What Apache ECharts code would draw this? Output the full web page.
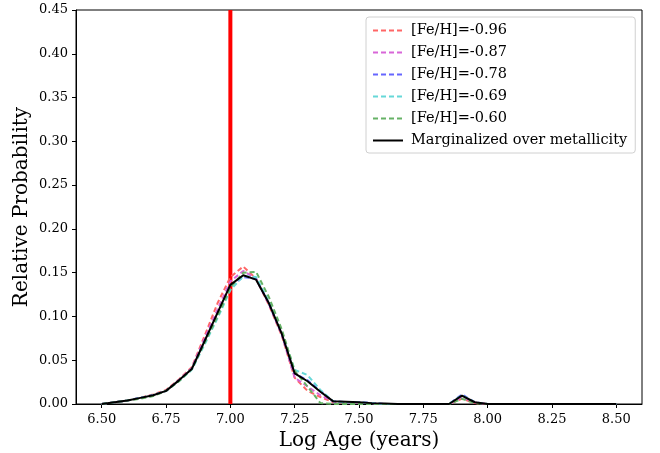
<!DOCTYPE html>
<html>
<head>
<meta charset="utf-8">
<script src="https://cdn.jsdelivr.net/npm/echarts@6/dist/echarts.min.js"></script>
<style>html,body{margin:0;padding:0;background:#fff}#c{width:660px;height:453px}</style>
</head>
<body>
<div id="c"></div>
<script>
// Log age grid
const logAge = [6.50,6.55,6.60,6.65,6.70,6.75,6.80,6.85,6.90,6.95,7.00,7.05,7.10,7.15,7.20,7.25,7.30,7.35,7.40,7.45,7.50,7.55,7.60,7.65,7.70,7.75,7.80,7.85,7.90,7.95,8.00,8.10,8.20,8.30,8.40,8.50];
const feh096 = [0.000,0.002,0.004,0.007,0.011,0.016,0.028,0.042,0.078,0.115,0.145,0.157,0.143,0.113,0.078,0.030,0.015,0.008,0.002,0.002,0.001,0.001,0.000,0.000,0.000,0.000,0.000,0.000,0.006,0.001,0.000,0.000,0.000,0.000,0.000,0.000];
const feh087 = [0.000,0.002,0.004,0.007,0.010,0.015,0.027,0.041,0.075,0.108,0.140,0.152,0.143,0.114,0.079,0.030,0.020,0.010,0.003,0.002,0.002,0.001,0.000,0.000,0.000,0.000,0.000,0.000,0.008,0.002,0.000,0.000,0.000,0.000,0.000,0.000];
const feh078 = [0.000,0.002,0.004,0.007,0.010,0.015,0.027,0.040,0.072,0.103,0.135,0.145,0.143,0.115,0.080,0.035,0.027,0.015,0.003,0.002,0.002,0.001,0.000,0.000,0.000,0.000,0.000,0.000,0.011,0.002,0.000,0.000,0.000,0.000,0.000,0.000];
const feh069 = [0.000,0.002,0.004,0.007,0.010,0.015,0.026,0.039,0.068,0.098,0.130,0.146,0.145,0.117,0.082,0.039,0.033,0.016,0.003,0.002,0.002,0.001,0.000,0.000,0.000,0.000,0.000,0.000,0.010,0.002,0.000,0.000,0.000,0.000,0.000,0.000];
const feh060 = [0.000,0.002,0.004,0.006,0.009,0.015,0.026,0.040,0.070,0.100,0.133,0.150,0.151,0.122,0.085,0.038,0.020,0.001,0.000,0.000,0.000,0.000,0.000,0.000,0.000,0.000,0.000,0.000,0.006,0.001,0.000,0.000,0.000,0.000,0.000,0.000];
const marginal = [0.000,0.002,0.004,0.007,0.010,0.015,0.027,0.040,0.072,0.104,0.136,0.147,0.142,0.115,0.080,0.035,0.026,0.014,0.003,0.0025,0.002,0.001,0.0005,0.000,0.000,0.000,0.000,0.000,0.0095,0.002,0.000,0.000,0.000,0.000,0.000,0.000];
const vlineX = [7.0, 7.0];
const vlineY = [0.0, 0.45];
const xTicks = [6.50,6.75,7.00,7.25,7.50,7.75,8.00,8.25,8.50];
const seriesNames = ['[Fe/H]=-0.96','[Fe/H]=-0.87','[Fe/H]=-0.78','[Fe/H]=-0.69','[Fe/H]=-0.60'];
const seriesColors = ['#ff6666','#d866d8','#6666ff','#66d8d8','#66b266'];
const seriesData = [feh096, feh087, feh078, feh069, feh060];

const font = 'DejaVu Serif';
const pairs = (xs, ys) => xs.map((x, i) => [x, ys[i]]);

const series = [];
series.push({
  name: 'vline', type: 'line', data: pairs(vlineX, vlineY), symbol: 'none',
  lineStyle: { color: '#ff0000', width: 4 }, silent: true, z: 1
});
seriesData.forEach((d, i) => {
  series.push({
    name: seriesNames[i], type: 'line', data: pairs(logAge, d), symbol: 'none',
    lineStyle: { color: seriesColors[i], width: 2, type: [5, 3] },
    itemStyle: { color: seriesColors[i] }, z: 2
  });
});
series.push({
  name: 'Marginalized over metallicity', type: 'line', data: pairs(logAge, marginal), symbol: 'none',
  lineStyle: { color: '#000000', width: 2 }, itemStyle: { color: '#000' }, z: 3
});

const chart = echarts.init(document.getElementById('c'), null, { renderer: 'canvas' });
chart.setOption({
  animation: false,
  backgroundColor: '#fff',
  grid: { left: 76, right: 18, top: 10, bottom: 49, outerBoundsMode: 'none', containLabel: false, show: true, borderColor: '#000', borderWidth: 1, backgroundColor: 'transparent' },
  legend: {
    data: seriesNames.concat(['Marginalized over metallicity']),
    orient: 'vertical', left: 366, top: 17,
    itemWidth: 30, itemHeight: 12, itemGap: 7,
    padding: [6, 8, 5, 6],
    borderColor: '#d0d0d0', borderWidth: 1, borderRadius: 3,
    backgroundColor: 'rgba(255,255,255,0.8)',
    itemStyle: { opacity: 0, borderWidth: 0 },
    textStyle: { fontFamily: font, fontSize: 14.5, color: '#000', padding: [0, 0, 0, 3] }
  },
  xAxis: {
    type: 'value', min: 6.4, max: 8.6,
    name: 'Log Age (years)', nameLocation: 'middle', nameGap: 26,
    nameTextStyle: { fontFamily: font, fontSize: 20, color: '#000' },
    axisLine: { show: true, lineStyle: { color: '#000', width: 1 } },
    axisTick: { show: true, length: 4, lineStyle: { color: '#000' }, customValues: xTicks },
    axisLabel: { fontFamily: font, fontSize: 13, color: '#000', margin: 9, customValues: xTicks, formatter: v => v.toFixed(2) },
    splitLine: { show: false }
  },
  yAxis: {
    type: 'value', min: 0, max: 0.45, interval: 0.05,
    name: 'Relative Probability', nameLocation: 'middle', nameGap: 44, nameMoveOverlap: false,
    nameTextStyle: { fontFamily: font, fontSize: 20, color: '#000' },
    axisLine: { show: true, lineStyle: { color: '#000', width: 1 } },
    axisTick: { show: true, length: 4, lineStyle: { color: '#000' } },
    axisLabel: { fontFamily: font, fontSize: 13, color: '#000', margin: 8, formatter: v => v.toFixed(2) },
    splitLine: { show: false }
  },
  series: series
});
</script>
</body>
</html>
